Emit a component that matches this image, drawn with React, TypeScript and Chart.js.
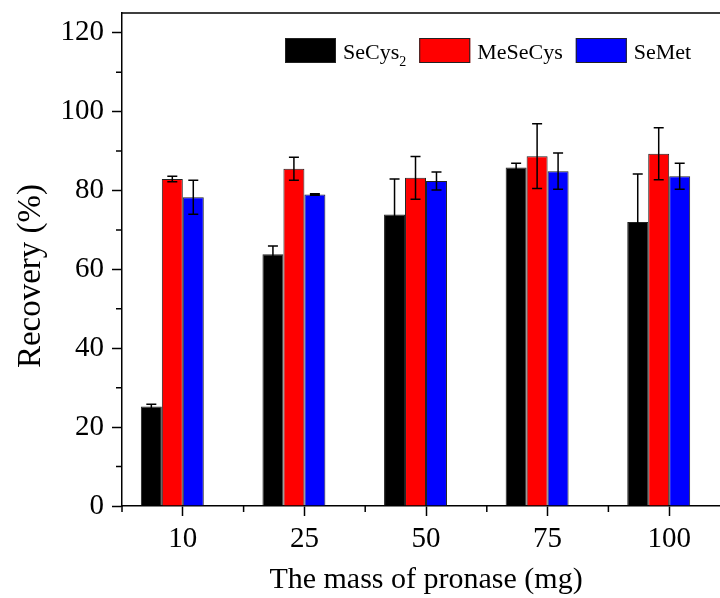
import React, { useEffect, useRef } from 'react';
import { Chart, registerables } from 'chart.js';

Chart.register(...registerables);

const categories = ['10', '25', '50', '75', '100'];
const seriesNames = ['SeCys', 'MeSeCys', 'SeMet'];
const seriesSubscripts = ['2', '', ''];
const seriesColors = ['#000000', '#ff0000', '#0000ff'];

const seCys2 = [25.2, 63.8, 73.9, 85.8, 72.0];
const seCys2Err = [0.6, 2.1, 9.0, 1.1, 12.2];
const meSeCys = [82.9, 85.5, 83.2, 88.7, 89.3];
const meSeCysErr = [0.7, 2.9, 5.4, 8.2, 6.6];
const seMet = [78.3, 79.0, 82.4, 84.9, 83.6];
const seMetErr = [4.3, 0.2, 2.3, 4.6, 3.3];

const yMin = 0;
const yMax = 125;
const yStep = 20;
const yMinorTicks = [10, 30, 50, 70, 90, 110];

const xTitle = 'The mass of pronase (mg)';
const yTitle = 'Recovery (%)';

const FONT = '"Liberation Serif", "Times New Roman", Times, serif';

const seriesValues = [seCys2, meSeCys, seMet];
const seriesErrors = [seCys2Err, meSeCysErr, seMetErr];

const decorPlugin = {
  id: 'decor',
  afterDatasetsDraw(chart: any) {
    const ctx = chart.ctx;
    const ys = chart.scales.y;
    ctx.save();
    ctx.strokeStyle = '#000';
    ctx.lineWidth = 1.5;
    seriesErrors.forEach((errs, di) => {
      const meta = chart.getDatasetMeta(di);
      const vals = seriesValues[di];
      meta.data.forEach((bar: any, j: number) => {
        const v = vals[j];
        const e = errs[j];
        const cx = bar.x;
        const yt = ys.getPixelForValue(v + e);
        const yb = ys.getPixelForValue(v - e);
        ctx.beginPath();
        ctx.moveTo(cx, yt);
        ctx.lineTo(cx, yb);
        ctx.moveTo(cx - 5, yt);
        ctx.lineTo(cx + 5, yt);
        ctx.moveTo(cx - 5, yb);
        ctx.lineTo(cx + 5, yb);
        ctx.stroke();
      });
    });
    ctx.restore();
  },
  afterDraw(chart: any) {
    const ctx = chart.ctx;
    const area = chart.chartArea;
    const ys = chart.scales.y;
    ctx.save();
    ctx.strokeStyle = '#000';
    ctx.lineWidth = 1.5;
    ctx.beginPath();
    ctx.moveTo(area.left, area.top);
    ctx.lineTo(area.right, area.top);
    ctx.lineTo(area.right, area.bottom);
    ctx.stroke();
    ctx.beginPath();
    yMinorTicks.forEach((v) => {
      const py = ys.getPixelForValue(v);
      ctx.moveTo(area.left - 6, py);
      ctx.lineTo(area.left, py);
    });
    const catW = (area.right - area.left) / categories.length;
    for (let i = 0; i <= categories.length; i++) {
      const px = area.left + i * catW;
      ctx.moveTo(px, area.bottom);
      ctx.lineTo(px, area.bottom + 6);
    }
    ctx.stroke();

    let lx = 285;
    const boxTop = 38;
    const boxW = 51;
    const boxH = 25;
    seriesNames.forEach((name, i) => {
      ctx.fillStyle = seriesColors[i];
      ctx.fillRect(lx, boxTop, boxW, boxH);
      ctx.lineWidth = 1;
      ctx.strokeStyle = '#222';
      ctx.strokeRect(lx + 0.5, boxTop + 0.5, boxW - 1, boxH - 1);
      lx += boxW + 7;
      ctx.fillStyle = '#000';
      ctx.font = `22px ${FONT}`;
      ctx.textAlign = 'left';
      ctx.textBaseline = 'alphabetic';
      ctx.fillText(name, lx, 59);
      lx += ctx.measureText(name).width;
      if (seriesSubscripts[i]) {
        ctx.font = `14px ${FONT}`;
        ctx.fillText(seriesSubscripts[i], lx, 66);
        lx += ctx.measureText(seriesSubscripts[i]).width;
      }
      lx += 13;
    });

    ctx.fillStyle = '#000';
    ctx.textAlign = 'center';
    ctx.textBaseline = 'alphabetic';
    ctx.font = `30px ${FONT}`;
    ctx.fillText(xTitle, 426, 588);
    ctx.save();
    ctx.font = `33px ${FONT}`;
    ctx.translate(40, 276);
    ctx.rotate(-Math.PI / 2);
    ctx.fillText(yTitle, 0, 0);
    ctx.restore();
    ctx.restore();
  },
};

export default function App() {
  const canvasRef = useRef<HTMLCanvasElement>(null);

  useEffect(() => {
    if (!canvasRef.current) return;
    const chart = new Chart(canvasRef.current, {
      type: 'bar',
      data: {
        labels: categories,
        datasets: [
          ...seriesNames.map((name, i) => ({
            label: name + seriesSubscripts[i],
            data: seriesValues[i],
            backgroundColor: seriesColors[i],
            borderColor: '#222',
            borderWidth: 1,
          })),
          { label: '', data: categories.map(() => null), backgroundColor: 'transparent' },
        ],
      },
      options: {
        animation: false,
        responsive: false,
        datasets: { bar: { barPercentage: 1, categoryPercentage: 0.69 } },
        layout: { padding: { top: 13, right: 15, left: 0, bottom: 0 } },
        plugins: { legend: { display: false }, tooltip: { enabled: false } },
        scales: {
          x: {
            type: 'category',
            offset: true,
            grid: { offset: false, drawOnChartArea: false, tickLength: 10, tickWidth: 1.5, tickColor: '#000' },
            border: { color: '#000', width: 1.5 },
            ticks: { font: { family: FONT, size: 29 }, color: '#000', padding: 6, maxRotation: 0, autoSkip: false },
            afterFit: (s: any) => {
              s.height = 92;
              s.paddingLeft = 0;
              s.paddingRight = 0;
            },
          },
          y: {
            min: yMin,
            max: yMax,
            grid: { drawOnChartArea: false, tickLength: 10, tickWidth: 1.5, tickColor: '#000' },
            border: { color: '#000', width: 1.5 },
            ticks: { stepSize: yStep, includeBounds: false, font: { family: FONT, size: 29 }, color: '#000', padding: 8 },
            afterFit: (s: any) => {
              s.width = 122;
              s.paddingTop = 0;
              s.paddingBottom = 0;
            },
          },
        },
      },
      plugins: [decorPlugin],
    } as any);
    return () => chart.destroy();
  }, []);

  return (
    <div style={{ position: 'fixed', left: 0, top: 0, width: 720, height: 598, overflow: 'hidden', background: '#fff' }}>
      <canvas ref={canvasRef} width={745} height={598} style={{ display: 'block' }} />
    </div>
  );
}
